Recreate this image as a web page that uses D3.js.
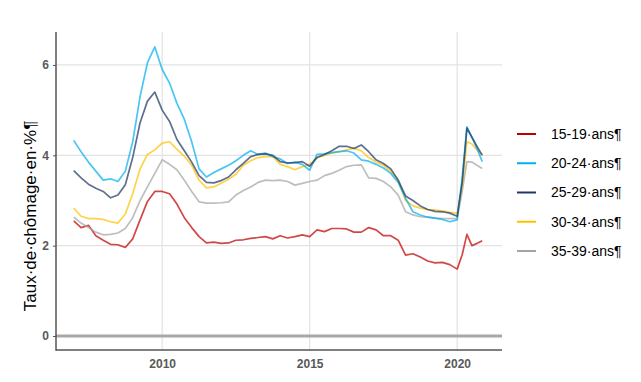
<!DOCTYPE html>
<html>
<head>
<meta charset="utf-8">
<script src="https://cdn.jsdelivr.net/npm/d3@7/dist/d3.min.js"></script>
<style>
  html, body { margin: 0; padding: 0; background: #fff; }
  svg { display: block; }
</style>
</head>
<body>
<svg id="chart" width="641" height="382"></svg>
<script>
// ---- Data ----
const dates = [
  2007.0, 2007.25, 2007.5, 2007.75,
  2008.0, 2008.25, 2008.5, 2008.75,
  2009.0, 2009.25, 2009.5, 2009.75,
  2010.0, 2010.25, 2010.5, 2010.75,
  2011.0, 2011.25, 2011.5, 2011.75,
  2012.0, 2012.25, 2012.5, 2012.75,
  2013.0, 2013.25, 2013.5, 2013.75,
  2014.0, 2014.25, 2014.5, 2014.75,
  2015.0, 2015.25, 2015.5, 2015.75,
  2016.0, 2016.25, 2016.5, 2016.75,
  2017.0, 2017.25, 2017.5, 2017.75,
  2018.0, 2018.25, 2018.5, 2018.75,
  2019.0, 2019.25, 2019.5, 2019.75,
  2020.0, 2020.17, 2020.33, 2020.5, 2020.67, 2020.85
];

const seriesNames = ["15-19·ans¶", "20-24·ans¶", "25-29·ans¶", "30-34·ans¶", "35-39·ans¶"];
const seriesColors = ["#c00000", "#00b0f0", "#203864", "#ffc000", "#a5a5a5"];

const v15_19 = [
  2.55, 2.40, 2.45, 2.22,
  2.12, 2.03, 2.02, 1.96,
  2.15, 2.57, 2.98, 3.20,
  3.20, 3.15, 2.92, 2.62,
  2.40, 2.20, 2.06, 2.08,
  2.05, 2.06, 2.12, 2.13,
  2.16, 2.18, 2.20, 2.15,
  2.22, 2.17, 2.20, 2.24,
  2.20, 2.35, 2.31, 2.38,
  2.38, 2.37, 2.30, 2.30,
  2.40, 2.35, 2.22, 2.22,
  2.12, 1.79, 1.82, 1.75,
  1.66, 1.62, 1.63, 1.58,
  1.48, 1.80, 2.25, 2.00, 2.05, 2.11
];
const v20_24 = [
  4.33, 4.08, 3.85, 3.65,
  3.45, 3.48, 3.42, 3.65,
  4.30, 5.30, 6.05, 6.40,
  5.90, 5.60, 5.15, 4.80,
  4.30, 3.70, 3.52, 3.62,
  3.70, 3.78, 3.88, 4.00,
  4.10, 4.02, 4.05, 3.97,
  3.92, 3.82, 3.85, 3.80,
  3.67, 4.02, 4.03, 4.06,
  4.08, 4.10, 4.05, 3.90,
  3.87, 3.80, 3.72, 3.60,
  3.40, 3.05, 2.75, 2.68,
  2.63, 2.61, 2.58, 2.53,
  2.57, 3.50, 4.63, 4.40, 4.15, 3.86
];
const v25_29 = [
  3.66, 3.50, 3.36, 3.27,
  3.20, 3.06, 3.12, 3.35,
  3.95, 4.72, 5.20, 5.40,
  5.00, 4.75, 4.35, 4.10,
  3.85, 3.55, 3.40, 3.39,
  3.44, 3.52, 3.68, 3.82,
  3.97, 4.02, 4.03, 4.00,
  3.86, 3.83, 3.84, 3.86,
  3.76, 3.95, 4.02, 4.10,
  4.20, 4.20, 4.15, 4.23,
  4.08, 3.90, 3.82, 3.70,
  3.45, 3.10, 3.00, 2.88,
  2.80, 2.76, 2.75, 2.72,
  2.65, 3.40, 4.60, 4.40, 4.20, 4.00
];
const v30_34 = [
  2.83, 2.65, 2.60, 2.60,
  2.58, 2.53, 2.50, 2.70,
  3.15, 3.70, 4.02, 4.12,
  4.27, 4.30, 4.13, 3.98,
  3.78, 3.45, 3.28, 3.30,
  3.38, 3.47, 3.58, 3.78,
  3.88, 3.95, 3.97, 3.97,
  3.80, 3.75, 3.68, 3.75,
  3.80, 3.95, 4.00, 4.05,
  4.08, 4.12, 4.16, 4.10,
  3.95, 3.85, 3.78, 3.65,
  3.45, 3.00, 2.88, 2.83,
  2.80, 2.79, 2.77, 2.74,
  2.72, 3.30, 4.30, 4.25, 4.12, 4.02
];
const v35_39 = [
  2.63, 2.50, 2.40, 2.30,
  2.24, 2.25, 2.28, 2.38,
  2.62, 3.00, 3.30, 3.60,
  3.90, 3.80, 3.68, 3.45,
  3.20, 2.97, 2.94, 2.94,
  2.95, 2.97, 3.12, 3.22,
  3.30, 3.40, 3.45, 3.44,
  3.45, 3.42, 3.34, 3.38,
  3.42, 3.45, 3.55, 3.60,
  3.67, 3.75, 3.78, 3.79,
  3.50, 3.49, 3.42, 3.30,
  3.12, 2.75, 2.68, 2.64,
  2.63, 2.61, 2.60, 2.60,
  2.60, 3.20, 3.86, 3.85, 3.78, 3.71
];

const yTicks = [0, 2, 4, 6];
const xTicks = [2010, 2015, 2020];
const yTitle = "Taux·de·chômage·en·%¶";

// ---- Chart ----
(function () {
const allValues = [v15_19, v20_24, v25_29, v30_34, v35_39];
const series = seriesNames.map((name, i) => ({
  name, color: seriesColors[i],
  points: dates.map((d, j) => ({ x: d, y: allValues[i][j] }))
}));

const svg = d3.select("#chart");
const pLeft = 56, pRight = 502, pTop = 32, pBottom = 350;

const x = d3.scaleLinear().domain([2006.4, 2021.52]).range([pLeft, pRight]);
const y = d3.scaleLinear().domain([-0.31, 6.73]).range([pBottom, pTop]);

// gridlines
svg.append("g").selectAll("line").data(yTicks.filter(t => t !== 0)).join("line")
  .attr("x1", pLeft).attr("x2", pRight)
  .attr("y1", d => y(d)).attr("y2", d => y(d))
  .attr("stroke", "#e3e3e3").attr("stroke-width", 1.2);
svg.append("g").selectAll("line").data(xTicks).join("line")
  .attr("x1", d => x(d)).attr("x2", d => x(d))
  .attr("y1", pTop).attr("y2", pBottom)
  .attr("stroke", "#e3e3e3").attr("stroke-width", 1.2);

// zero reference line
svg.append("line")
  .attr("x1", pLeft).attr("x2", pRight)
  .attr("y1", y(0)).attr("y2", y(0))
  .attr("stroke", "#a8a8a8").attr("stroke-width", 3);

// axes
const yAxis = d3.axisLeft(y).tickValues(yTicks).tickSize(3).tickPadding(4).tickFormat(d3.format("d"));
const xAxis = d3.axisBottom(x).tickValues(xTicks).tickSize(0).tickPadding(9).tickFormat(d3.format("d"));

const gy = svg.append("g").attr("transform", `translate(${pLeft},0)`).call(yAxis);
gy.select(".domain").remove();
gy.selectAll(".tick line").attr("stroke", "#555");
gy.selectAll("text").attr("fill", "#595959").attr("font-size", 12)
  .attr("font-family", "'Liberation Sans', Arial, sans-serif").attr("font-weight", "bold");

const gx = svg.append("g").attr("transform", `translate(0,${pBottom})`).call(xAxis);
gx.select(".domain").remove();
gx.selectAll("text").attr("fill", "#595959").attr("font-size", 12)
  .attr("font-family", "'Liberation Sans', Arial, sans-serif").attr("font-weight", "bold");

svg.append("line").attr("x1", pLeft).attr("x2", pLeft).attr("y1", pTop).attr("y2", pBottom + 0.75)
  .attr("stroke", "#555").attr("stroke-width", 1.5);
svg.append("line").attr("x1", pLeft).attr("x2", pRight).attr("y1", pBottom).attr("y2", pBottom)
  .attr("stroke", "#555").attr("stroke-width", 1.5);

// lines
const line = d3.line().x(d => x(d.x)).y(d => y(d.y));
const drawOrder = [0, 4, 3, 1, 2];
svg.append("g").selectAll("path").data(drawOrder.map(i => series[i])).join("path")
  .attr("d", d => line(d.points))
  .attr("fill", "none")
  .attr("stroke", d => d.color)
  .attr("stroke-width", 1.7)
  .attr("stroke-opacity", 0.72)
  .attr("stroke-linejoin", "round");

// y title
svg.append("text")
  .attr("transform", `translate(36,216) rotate(-90)`)
  .attr("text-anchor", "middle")
  .attr("font-family", "'Liberation Sans', Arial, sans-serif")
  .attr("font-size", 17)
  .attr("fill", "#000")
  .text(yTitle);

// legend
const lg = svg.append("g").selectAll("g").data(series).join("g")
  .attr("transform", (d, i) => `translate(517,${134 + i * 29.25})`);
lg.append("line").attr("x1", 0).attr("x2", 19).attr("y1", 0).attr("y2", 0)
  .attr("stroke", d => d.color).attr("stroke-width", 2);
lg.append("text").attr("x", 34).attr("y", 0).attr("dy", "0.35em")
  .attr("font-family", "'Liberation Sans', Arial, sans-serif")
  .attr("font-size", 14).attr("fill", "#000")
  .text(d => d.name);
})();
</script>
</body>
</html>
